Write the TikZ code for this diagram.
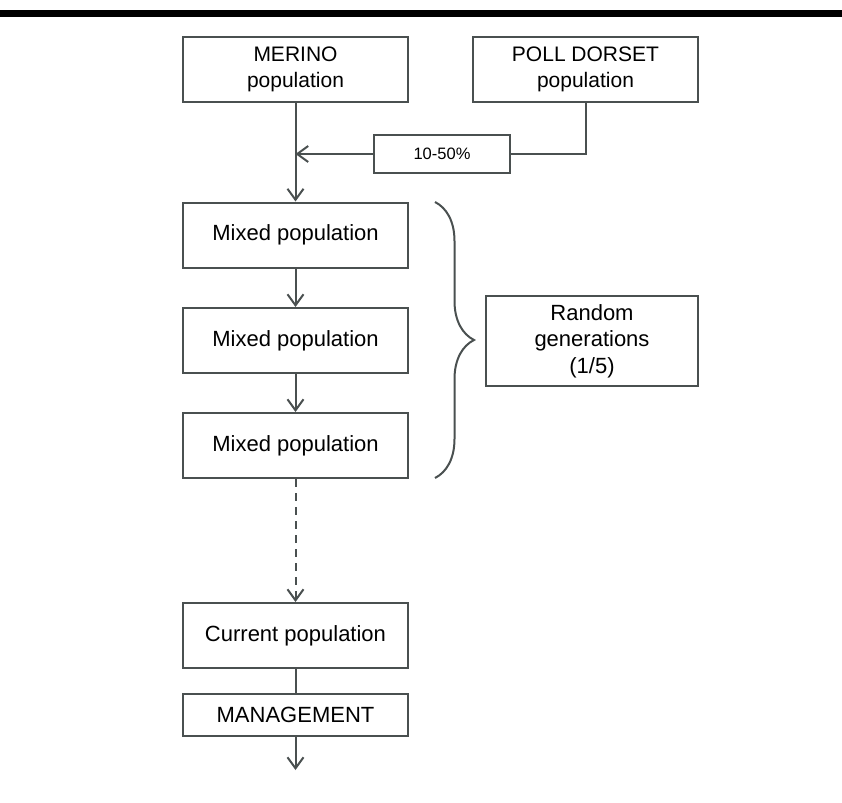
\documentclass[tikz,border=0pt]{standalone}
\usepackage{fontspec}
\setmainfont{Liberation Sans}
\usetikzlibrary{arrows.meta,decorations.pathreplacing}
\definecolor{linegray}{HTML}{4A5050}
\tikzset{
  popbox/.style={draw=linegray, line width=1pt, minimum width=112.5pt, minimum height=32.5pt,
    align=center, inner sep=2pt, font=\fontsize{11}{13.3}\selectfont},
  flow/.style={draw=linegray, line width=1pt, -{Straight Barb[length=5.5pt,width=8pt,line width=1pt]}},
  plain/.style={draw=linegray, line width=1pt}
}
\begin{document}
\begin{tikzpicture}[x=0.5pt, y=-0.5pt]
    \useasboundingbox (0,0) rectangle (842,803);
    % top rule
    \fill[black] (0,9.5) rectangle (842,16.5);

    % parent populations
    \node[popbox, font=\fontsize{10.5}{13}\selectfont] (merino) at (295.5,69.5) {MERINO\\population};
    \node[popbox, font=\fontsize{10.5}{13}\selectfont] (dorset) at (585.5,69.5) {POLL DORSET\\population};
    \node[popbox, minimum width=68pt, minimum height=19pt, font=\fontsize{8.25}{10}\selectfont] (share) at (442,154) {10-50\%};

    % mixed generations
    \node[popbox] (mixA) at (295.5,235) {Mixed population};
    \node[popbox] (mixB) at (295.5,340.5) {Mixed population};
    \node[popbox] (mixC) at (295.5,445.5) {Mixed population};
    \node[popbox, minimum width=106pt, minimum height=45pt] (random) at (592,341) {Random\\generations\\(1/5)};

    % today
    \node[popbox] (current) at (295.5,635.5) {Current population};
    \node[popbox, minimum height=21pt] (mgmt) at (295.5,715) {MANAGEMENT};
    \coordinate (out) at (295.5,770);

    % connectors
    \draw[flow] (merino) -- (mixA);
    \draw[plain] (dorset.south) |- (share.east);
    \draw[flow] (share.west) -- (share.west -| merino.south);
    \draw[flow] (mixA) -- (mixB);
    \draw[flow] (mixB) -- (mixC);
    \draw[flow, dash pattern=on 4pt off 3pt] (mixC) -- (current);
    \draw[plain] (current) -- (mgmt);
    \draw[flow] (mgmt) -- (out);

    % brace
    \draw[plain, decorate, decoration={brace, amplitude=19.5pt}] (435,202) -- (435,478);
\end{tikzpicture}
\end{document}
